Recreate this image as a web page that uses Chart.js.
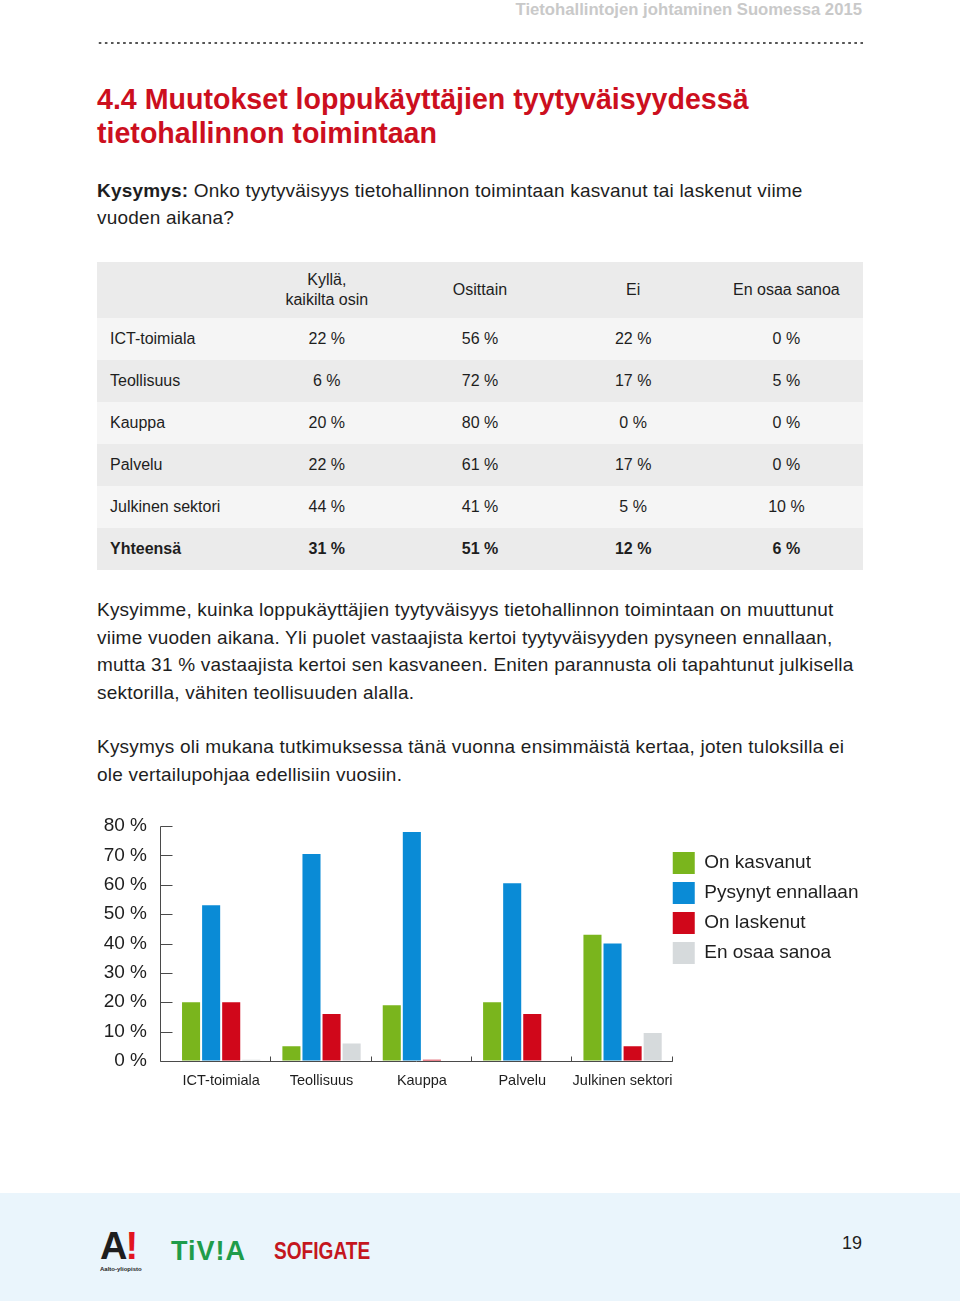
<!DOCTYPE html>
<html lang="fi">
<head>
<meta charset="utf-8">
<title>Muutokset loppukäyttäjien tyytyväisyydessä</title>
<script src="https://cdn.jsdelivr.net/npm/chart.js@4.4.1/dist/chart.umd.min.js"></script>
<style>
  html, body { margin: 0; padding: 0; background: #fff; }
  body { width: 960px; height: 1301px; position: relative; overflow: hidden;
         font-family: "Liberation Sans", Arial, sans-serif; color: #1e1e1e; }
  .abs { position: absolute; }
  #runningHead { right: 98px; top: 0; font-size: 16.7px; font-weight: bold; color: #c9c9c9; line-height: 20px; }
  #dots { left: 97px; top: 41px; width: 767px; height: 4px;
          background: radial-gradient(circle, #555 1px, transparent 1.3px) 0 0 / 6.1px 4px repeat-x; }
  #title { left: 97px; top: 82px; font-size: 28.6px; font-weight: bold; color: #cc0f1e; line-height: 34px; }
  #question { left: 97px; top: 177px; font-size: 19px; letter-spacing: 0.2px; line-height: 27px; white-space: nowrap; }
  table { position: absolute; left: 97px; top: 262px; width: 766px; border-collapse: collapse;
          font-size: 16px; table-layout: fixed; }
  th, td { padding: 0; text-align: center; font-weight: normal; }
  th { height: 56px; background: #ebebeb; line-height: 20px; }
  td { height: 42px; }
  td:first-child { text-align: left; padding-left: 13px; }
  tr.light td { background: #f5f5f5; }
  tr.dark td { background: #ebebeb; }
  tr.total td { font-weight: bold; }
  .para { left: 97px; font-size: 19px; letter-spacing: 0.22px; line-height: 27.5px; white-space: nowrap; }
  #chartBox { left: 90px; top: 810px; width: 790px; height: 290px; }
  #footer { left: 0; top: 1193px; width: 960px; height: 108px; background: #eaf5fc; }
  #aalto { left: 100px; top: 1226px; font-size: 38px; font-weight: 900; letter-spacing: -2px; line-height: 40px; }
  #aalto span { color: #e2141f; }
  #aaltoSub { left: 100px; top: 1266px; font-size: 6px; font-weight: bold; }
  #tivia { left: 171px; top: 1236px; font-size: 27px; font-weight: bold; color: #1f9c4a; letter-spacing: 1px; line-height: 30px; }
  #sofigate { left: 274px; top: 1238px; font-size: 23px; font-weight: bold; color: #c4161e; line-height: 26px;
              transform: scaleX(0.83); transform-origin: left center; }
  #pageNo { left: 842px; top: 1232px; font-size: 18px; line-height: 22px; }
</style>
</head>
<body>
<div id="runningHead" class="abs">Tietohallintojen johtaminen Suomessa 2015</div>
<div id="dots" class="abs"></div>
<div id="title" class="abs">4.4 Muutokset loppukäyttäjien tyytyväisyydessä<br>tietohallinnon toimintaan</div>
<div id="question" class="abs"><b>Kysymys:</b> Onko tyytyväisyys tietohallinnon toimintaan kasvanut tai laskenut viime<br>vuoden aikana?</div>

<table id="resultTable"></table>

<div class="abs para" style="top:596px">Kysyimme, kuinka loppukäyttäjien tyytyväisyys tietohallinnon toimintaan on muuttunut<br>viime vuoden aikana. Yli puolet vastaajista kertoi tyytyväisyyden pysyneen ennallaan,<br>mutta 31 % vastaajista kertoi sen kasvaneen. Eniten parannusta oli tapahtunut julkisella<br>sektorilla, vähiten teollisuuden alalla.</div>
<div class="abs para" style="top:733px">Kysymys oli mukana tutkimuksessa tänä vuonna ensimmäistä kertaa, joten tuloksilla ei<br>ole vertailupohjaa edellisiin vuosiin.</div>

<div id="chartBox" class="abs"><canvas id="satisfactionChart"></canvas></div>

<div id="footer" class="abs"></div>
<div id="aalto" class="abs">A<span>!</span></div>
<div id="aaltoSub" class="abs">Aalto-yliopisto</div>
<div id="tivia" class="abs">TiV!A</div>
<div id="sofigate" class="abs">SOFIGATE</div>
<div id="pageNo" class="abs">19</div>

<script>
// Taulukon tiedot
const tableHead = ['', 'Kyllä,<br>kaikilta osin', 'Osittain', 'Ei', 'En osaa sanoa'];
const tableRows = ['ICT-toimiala', 'Teollisuus', 'Kauppa', 'Palvelu', 'Julkinen sektori', 'Yhteensä'];
const tableKylla = [22, 6, 20, 22, 44, 31];
const tableOsittain = [56, 72, 80, 61, 41, 51];
const tableEi = [22, 17, 0, 17, 5, 12];
const tableEos = [0, 5, 0, 0, 10, 6];

// Kaavion tiedot
const categories = ['ICT-toimiala', 'Teollisuus', 'Kauppa', 'Palvelu', 'Julkinen sektori'];
const onKasvanut = [20, 5, 19, 20, 43];
const pysynyt = [53, 70.5, 78, 60.5, 40];
const onLaskenut = [20, 16, 0.4, 16, 5];
const enOsaa = [0.4, 6, 0, 0, 9.5];
const yTicks = [0, 10, 20, 30, 40, 50, 60, 70, 80];

// Taulukko
const table = document.getElementById('resultTable');
let html = '<tr>' + tableHead.map(h => '<th>' + h + '</th>').join('') + '</tr>';
tableRows.forEach((name, i) => {
    const cls = i === tableRows.length - 1 ? 'dark total' : (i % 2 === 0 ? 'light' : 'dark');
    html += '<tr class="' + cls + '"><td>' + name + '</td>' +
        [tableKylla[i], tableOsittain[i], tableEi[i], tableEos[i]].map(v => '<td>' + v + ' %</td>').join('') +
        '</tr>';
});
table.innerHTML = html;

// Akselit piirretään itse, kuten alkuperäisessä
const axisLines = {
    id: 'axisLines',
    afterLayout(chart) {
        // selite hieman alemmas ja vasemmalle
        const lg = chart.legend;
        lg.top += 18; lg.bottom += 18;
        lg.left -= 8; lg.right -= 8;
    },
    afterDatasetsDraw(chart) {
        const {ctx, chartArea: a, scales: {x, y}} = chart;
        const axisX = Math.round(a.left) - 11 + 0.5;
        const base = Math.round(y.getPixelForValue(0)) + 0.5;
        ctx.save();
        ctx.strokeStyle = '#4a4a4a';
        ctx.lineWidth = 1;
        ctx.beginPath();
        ctx.moveTo(axisX, Math.round(y.getPixelForValue(yTicks[yTicks.length - 1])) + 0.5);
        ctx.lineTo(axisX, base);
        ctx.lineTo(a.right, base);
        yTicks.forEach(t => {
            const py = Math.round(y.getPixelForValue(t)) + 0.5;
            ctx.moveTo(axisX, py);
            ctx.lineTo(axisX + 12, py);
        });
        const step = (x.right - x.left) / categories.length;
        for (let i = 1; i <= categories.length; i++) {
            const px = Math.round(x.left + i * step) - 0.5;
            ctx.moveTo(px, base);
            ctx.lineTo(px, base - 5);
        }
        ctx.stroke();
        ctx.restore();
    }
};

const ctx = document.getElementById('satisfactionChart').getContext('2d');
new Chart(ctx, {
    type: 'bar',
    data: {
        labels: categories,
        datasets: [
            { label: 'On kasvanut', data: onKasvanut, backgroundColor: '#7ab51d' },
            { label: 'Pysynyt ennallaan', data: pysynyt, backgroundColor: '#0a8bd6' },
            { label: 'On laskenut', data: onLaskenut, backgroundColor: '#d0071a' },
            { label: 'En osaa sanoa', data: enOsaa, backgroundColor: '#d6dadc' }
        ]
    },
    options: {
        responsive: true,
        maintainAspectRatio: false,
        animation: false,
        categoryPercentage: 0.8,
        barPercentage: 0.9,
        layout: { padding: { top: 16, right: 13, bottom: 0, left: 0 } },
        plugins: {
            tooltip: { enabled: false },
            legend: {
                position: 'right',
                align: 'start',
                labels: {
                    boxWidth: 22,
                    boxHeight: 22,
                    padding: 8,
                    color: '#1e1e1e',
                    font: { family: 'Liberation Sans', size: 19 }
                }
            }
        },
        scales: {
            x: {
                grid: { display: false, drawTicks: false },
                border: { display: false },
                ticks: {
                    color: '#1e1e1e',
                    padding: 11,
                    maxRotation: 0,
                    minRotation: 0,
                    autoSkip: false,
                    font: { family: 'Liberation Sans', size: 14.5 }
                },
                afterFit(scale) { scale.height = 39; }
            },
            y: {
                min: 0,
                max: 80,
                // näkymätön tikkiväli siirtää tekstit irti akselista
                grid: { color: 'transparent', drawOnChartArea: false, drawTicks: true, tickLength: 24 },
                border: { display: false },
                ticks: {
                    stepSize: 10,
                    padding: 0,
                    color: '#1e1e1e',
                    font: { family: 'Liberation Sans', size: 19 },
                    callback: v => v + ' %'
                },
                afterFit(scale) { scale.width = 81; }
            }
        }
    },
    plugins: [axisLines]
});
</script>
</body>
</html>
